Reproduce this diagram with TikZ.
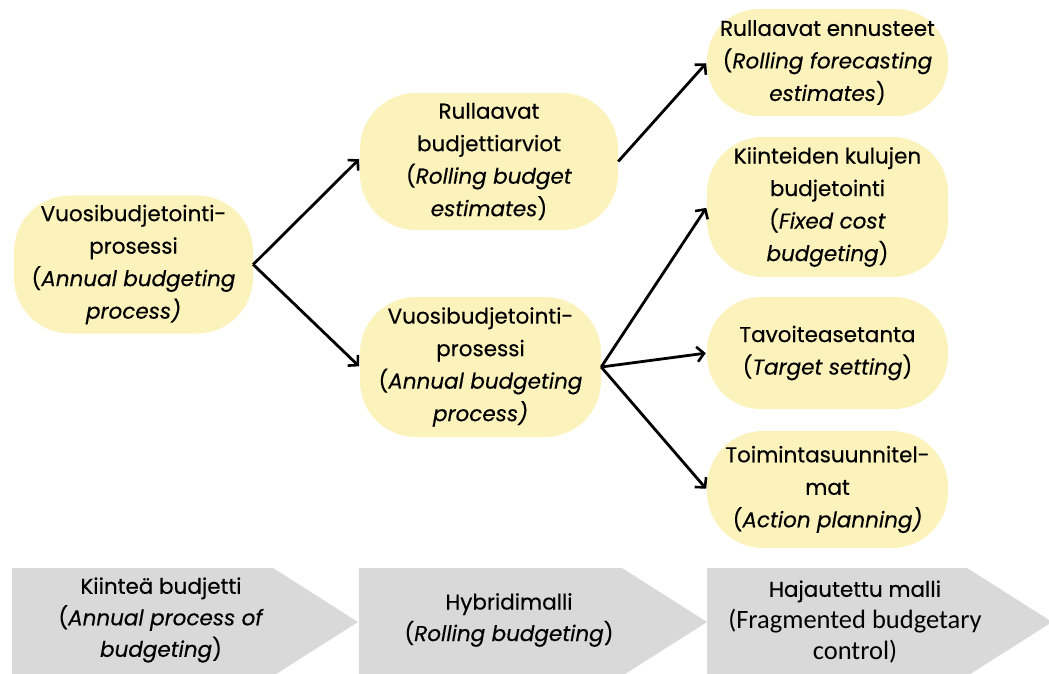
\documentclass[tikz,border=0pt]{standalone}
\usepackage{fontspec}
\setmainfont[FakeBold=0.35]{Poppins}
\newfontfamily\altfont{Carlito}
\usetikzlibrary{arrows.meta}
\definecolor{boxyellow}{HTML}{FCF2BC}
\definecolor{chevgray}{HTML}{D9D9D9}
\tikzset{
  bubble/.style={fill=boxyellow, rounded corners=56pt, inner sep=0pt, align=center,
    font=\fontsize{21.5}{32.5}\selectfont, text=black},
  conn/.style={line width=2.8pt, -{Straight Barb[length=7pt,width=15pt,line width=2.6pt]}, shorten >=1pt},
  chev/.style={fill=chevgray, draw=none},
  chevtext/.style={align=center, font=\fontsize{21.5}{31.5}\selectfont, text=black, inner sep=0pt}
}
\begin{document}
\begin{tikzpicture}[x=1pt,y=1pt]
\useasboundingbox (0,0) rectangle (1049,673);
% nodes
\node[bubble, minimum width=239pt, minimum height=138pt] (n1) at (133.5,408.5)
  {Vuosibudjetointi-\\prosessi\\(\textit{Annual budgeting}\\\textit{process)}};
\node[bubble, minimum width=258pt, minimum height=137pt] (n2) at (489,511.5)
  {Rullaavat\\budjettiarviot\\(\textit{Rolling budget}\\\textit{estimates})};
\node[bubble, minimum width=241pt, minimum height=140pt] (n3) at (480.5,306)
  {Vuosibudjetointi-\\prosessi\\(\textit{Annual budgeting}\\\textit{process)}};
\node[bubble, rounded corners=52pt, minimum width=241pt, minimum height=107pt] (n4) at (827.5,610.5)
  {Rullaavat ennusteet\\(\textit{Rolling forecasting}\\\textit{estimates})};
\node[bubble, minimum width=241pt, minimum height=140pt] (n5) at (827.5,466)
  {Kiinteiden kulujen\\budjetointi\\(\textit{Fixed cost}\\\textit{budgeting})};
\node[bubble, rounded corners=54pt, minimum width=241pt, minimum height=112pt] (n6) at (827.5,320)
  {Tavoiteasetanta\\(\textit{Target setting})};
\node[bubble, minimum width=241pt, minimum height=117pt] (n7) at (827.5,183.5)
  {Toimintasuunnitel-\\mat\\(\textit{Action planning)}};
% connectors
\draw[conn] (n1.east) -- ([yshift=3pt]n2.west);
\draw[conn] (n1.east) -- (n3.west);
\draw[conn] (n2.east) -- (n4.west);
\draw[conn] (n3.east) -- (n5.west);
\draw[conn] (n3.east) -- (n6.west);
\draw[conn] (n3.east) -- (n7.west);
% chevrons
\fill[chev] (12,105) -- (273,105) -- (358,51) -- (273,-3) -- (12,-3) -- cycle;
\fill[chev] (359,105) -- (622,105) -- (707,51) -- (622,-3) -- (359,-3) -- cycle;
\fill[chev] (707,105) -- (967,105) -- (1049,53) -- (1049,49) -- (967,-3) -- (707,-3) -- cycle;
\node[chevtext] (c1) at (161,53) {Kiinteä budjetti\\(\textit{Annual process of}\\\textit{budgeting})};
\node[chevtext] (c2) at (509,53) {Hybridimalli\\(\textit{Rolling budgeting})};
\node[chevtext] (c3) at (855,51) {Hajautettu malli\\{\altfont\fontsize{26.5}{31.5}\selectfont (Fragmented budgetary}\\{\altfont\fontsize{26.5}{31.5}\selectfont control)}};
\end{tikzpicture}
\end{document}
